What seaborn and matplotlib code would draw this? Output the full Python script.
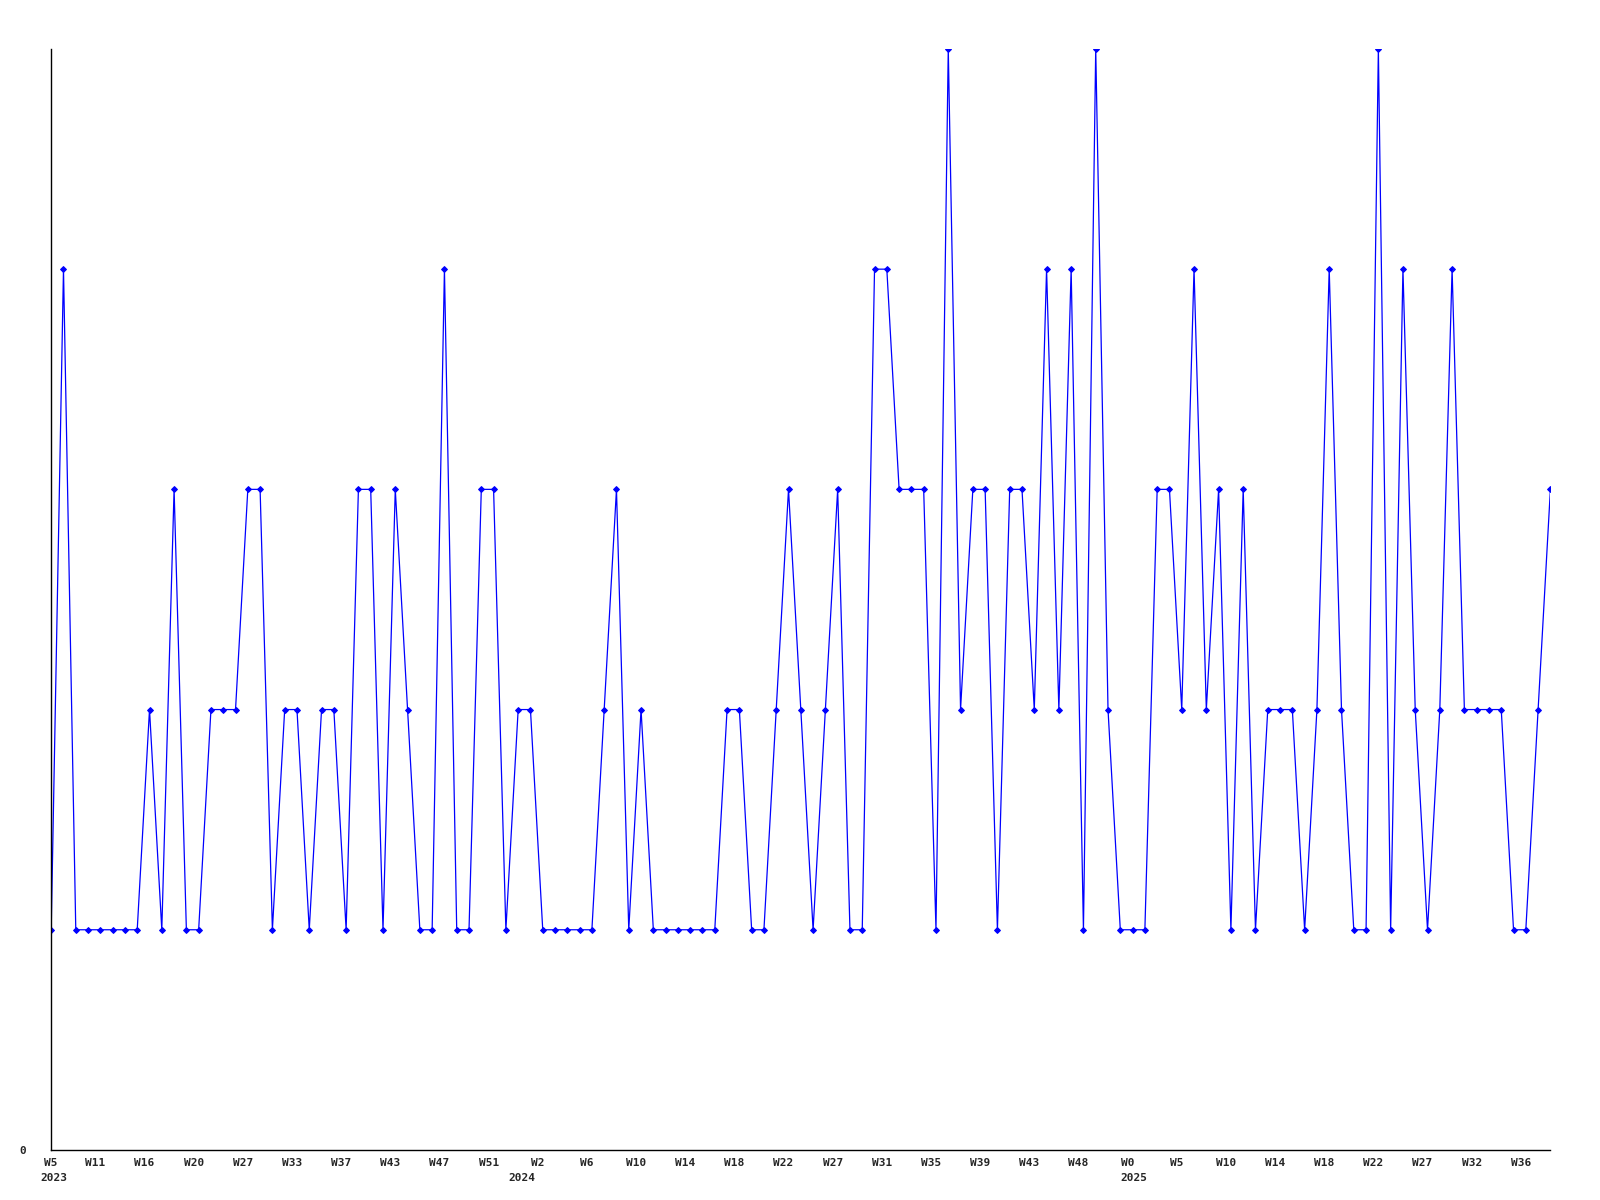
"""Weekly count line chart, recreated with seaborn."""
import pandas as pd
import matplotlib.pyplot as plt
import matplotlib.transforms as mtransforms
import seaborn as sns

# one value per sample, in order
values = [
    1, 4, 1, 1, 1, 1, 1, 1, 2, 1, 3, 1, 1, 2, 2, 2, 3, 3, 1, 2,
    2, 1, 2, 2, 1, 3, 3, 1, 3, 2, 1, 1, 4, 1, 1, 3, 3, 1, 2, 2,
    1, 1, 1, 1, 1, 2, 3, 1, 2, 1, 1, 1, 1, 1, 1, 2, 2, 1, 1, 2,
    3, 2, 1, 2, 3, 1, 1, 4, 4, 3, 3, 3, 1, 5, 2, 3, 3, 1, 3, 3,
    2, 4, 2, 4, 1, 5, 2, 1, 1, 1, 3, 3, 2, 4, 2, 3, 1, 3, 1, 2,
    2, 2, 1, 2, 4, 2, 1, 1, 5, 1, 4, 2, 1, 2, 4, 2, 2, 2, 2, 1,
    1, 2, 3,
]

# labels on every 4th sample
tick_weeks = [
    "W5", "W11", "W16", "W20", "W27", "W33", "W37", "W43", "W47", "W51",
    "W2", "W6", "W10", "W14", "W18", "W22", "W27", "W31", "W35", "W39",
    "W43", "W48", "W0", "W5", "W10", "W14", "W18", "W22", "W27", "W32",
    "W36",
]
tick_step = 4

# year labels and where they sit along the sample axis
years = ["2023", "2024", "2025"]
year_pos = [0.2, 38.3, 88.1]


def main():
    df = pd.DataFrame({"idx": range(len(values)), "value": values})

    sns.set_style("white")
    plt.rcParams["font.family"] = ["DejaVu Sans Mono"]

    fig = plt.figure(figsize=(16, 12), dpi=100)
    ax = fig.add_axes([0.032, 0.0417, 0.937, 0.9175])

    sns.lineplot(data=df, x="idx", y="value", ax=ax, color="#0000ff",
                 linewidth=0.9, marker="D", markersize=3.0,
                 markeredgecolor="#0000ff", markerfacecolor="#0000ff")

    ax.set_xlim(0, len(values) - 1)
    ax.set_ylim(0, 5)

    # week labels sit a little left of their sample in the original
    positions = [i * tick_step - 0.4 for i in range(len(tick_weeks))]
    positions[0] = 0
    ax.set_xticks(positions)
    ax.set_xticklabels(tick_weeks, fontsize=8, fontweight="bold")

    ax.set_yticks([0])
    ax.set_yticklabels(["0"], fontsize=8, fontweight="bold")

    trans = mtransforms.blended_transform_factory(ax.transData, ax.transAxes)
    for yr, pos in zip(years, year_pos):
        ax.text(pos, -0.0205, yr, transform=trans, ha="center", va="top",
                fontsize=8, fontweight="bold")

    ax.tick_params(axis="x", length=0, pad=6)
    ax.tick_params(axis="y", length=0, pad=18)
    ax.set_xlabel("")
    ax.set_ylabel("")

    for side in ["top", "right"]:
        ax.spines[side].set_visible(False)
    for side in ["left", "bottom"]:
        ax.spines[side].set_color("black")
        ax.spines[side].set_linewidth(1)

    fig.savefig("out.png", dpi=100, facecolor="white")


if __name__ == "__main__":
    main()
